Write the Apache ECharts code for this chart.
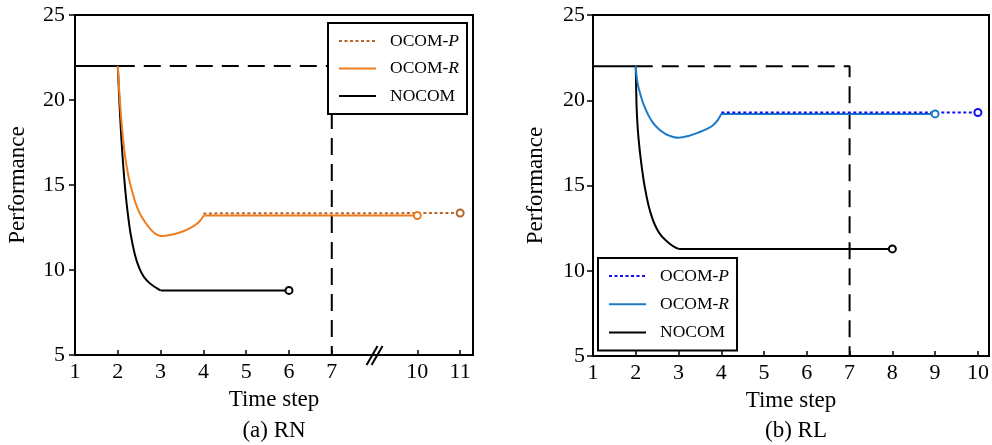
<!DOCTYPE html>
<html>
<head>
<meta charset="utf-8">
<script src="https://cdn.jsdelivr.net/npm/echarts@6/dist/echarts.min.js"></script>
<style>
  html, body { margin: 0; padding: 0; background: #fff; }
  #chart { width: 992px; height: 445px; }
</style>
</head>
<body>
<div id="chart"></div>
<script>
// ---- Data: performance over time steps ([time step, performance]) ----
// Each run is kept as its pieces: the level start, the transition curve, the settled level.

// (a) RN
const rnNocomStart = [[1, 22], [2, 22]];
const rnNocomCurve = [[2, 22], [2.03, 20.3], [2.06, 18.8], [2.1, 17.1], [2.15, 15.4], [2.2, 14.05],
  [2.25, 13.0], [2.3, 12.12], [2.4, 10.9], [2.5, 10.12], [2.6, 9.63], [2.7, 9.33], [2.8, 9.12],
  [2.9, 8.95], [3, 8.8]];
const rnNocomLevel = [[3, 8.8], [6, 8.8]];
const rnOcomRCurve = [[2, 22], [2.04, 20.3], [2.1, 18.3], [2.15, 17.1], [2.2, 16.2], [2.25, 15.5],
  [2.3, 14.96], [2.4, 14.06], [2.5, 13.4], [2.6, 12.96], [2.7, 12.6], [2.8, 12.3], [2.9, 12.1],
  [3, 12.0], [3.25, 12.07], [3.5, 12.25], [3.7, 12.48], [3.85, 12.72], [3.95, 12.98], [4, 13.2]];
const rnOcomRLevel = [[4, 13.2], [10, 13.2]];
const rnOcomP = [[4, 13.33], [11, 13.35]];
const rnTarget = [[2, 22], [7, 22], [7, 5]];
const rnTicks = [1, 2, 3, 4, 5, 6, 7, 10, 11];

// (b) RL
const rlNocomStart = [[1, 22], [2, 22]];
const rlNocomCurve = [[2, 22], [2.01, 20.6], [2.02, 19.6], [2.035, 18.8], [2.05, 18.2], [2.075, 17.5],
  [2.1, 16.9], [2.15, 15.9], [2.2, 15.06], [2.3, 13.81], [2.4, 12.98], [2.5, 12.42], [2.6, 12.04],
  [2.7, 11.79], [2.8, 11.57], [2.9, 11.4], [3, 11.28]];
const rlNocomLevel = [[3, 11.28], [8, 11.28]];
const rlOcomRCurve = [[2, 22], [2.01, 21.65], [2.02, 21.4], [2.05, 20.9], [2.1, 20.41], [2.15, 20.0],
  [2.2, 19.65], [2.3, 19.1], [2.4, 18.69], [2.5, 18.4], [2.6, 18.18], [2.7, 18.02], [2.8, 17.91],
  [2.9, 17.83], [3, 17.8], [3.25, 17.92], [3.5, 18.14], [3.7, 18.36], [3.82, 18.56], [3.92, 18.85],
  [4, 19.2]];
const rlOcomRLevel = [[4, 19.2], [9, 19.2]];
const rlOcomP = [[4, 19.28], [10, 19.28]];
const rlTarget = [[2, 22], [7, 22], [7, 5]];
const rlTicks = [1, 2, 3, 4, 5, 6, 7, 8, 9, 10];

const yTicks = [5, 10, 15, 20, 25];

// ---- Axis break on the RN panel: steps 8 and 9 are squeezed into one unit ----
const RN_BREAK_AFTER = 7;
function rnPos(t) { return t > RN_BREAK_AFTER ? t - 1 : t; }
function rnMap(points) { return points.map(p => [rnPos(p[0]), p[1]]); }
const rnBreakMark = [[(rnPos(7) + rnPos(10)) / 2, yTicks[0]]];

const FONT = 'Liberation Serif';
const C = {
  rnR: '#EE7D1E', rnP: '#B6652B',
  rlR: '#1B7BC9', rlP: '#1010EE',
  black: '#000000'
};

// last point of a run carries a hollow ring marker
function withEndRing(points, color) {
  return points.map((p, i) => i === points.length - 1
    ? { value: p, symbol: 'circle', symbolSize: 7,
        itemStyle: { color: '#ffffff', borderColor: color, borderWidth: 2 } }
    : p);
}

// one run drawn as consecutive pieces; curved pieces are smoothed, level pieces straight
function run(name, idx, pieces, color, type) {
  return pieces.map((pc, k) => ({
    name: k === 0 ? name : undefined,
    type: 'line', xAxisIndex: idx, yAxisIndex: idx,
    data: k === pieces.length - 1 ? withEndRing(pc.points, color) : pc.points,
    symbol: 'none', showSymbol: true, smooth: pc.smooth ? 0.4 : false,
    color: color,
    lineStyle: { color: color, width: 2, type: type || 'solid' },
    animation: false, silent: true, z: 3
  }));
}

function targetSeries(idx, points) {
  return {
    type: 'line', xAxisIndex: idx, yAxisIndex: idx, data: points,
    symbol: 'none', silent: true, animation: false, z: 2,
    lineStyle: { color: C.black, width: 2, type: [17, 9] }
  };
}

const legendText = {
  'RN-P': '{t|OCOM-}{i|P}', 'RN-R': '{t|OCOM-}{i|R}', 'RN-N': '{t|NOCOM}',
  'RL-P': '{t|OCOM-}{i|P}', 'RL-R': '{t|OCOM-}{i|R}', 'RL-N': '{t|NOCOM}'
};
const legendRich = {
  t: { fontFamily: FONT, fontSize: 17.5, color: '#000', padding: [0, 0, 0, 9] },
  i: { fontFamily: FONT, fontSize: 17.5, color: '#000', fontStyle: 'italic' }
};
function legendBox(data, left, top, gap) {
  return {
    data: data, orient: 'vertical', left: left, top: top,
    itemWidth: 37, itemHeight: 14, itemGap: gap,
    padding: [9, 8, 9, 10], selectedMode: false,
    backgroundColor: '#ffffff', borderColor: '#000', borderWidth: 2,
    itemStyle: { opacity: 0 },
    formatter: n => legendText[n],
    textStyle: { fontFamily: FONT, fontSize: 17.5, color: '#000', rich: legendRich },
    z: 10
  };
}

const axisFont = { fontFamily: FONT, fontSize: 22, color: '#000' };
const nameFont = { fontFamily: FONT, fontSize: 23, color: '#000' };

function xAxis(idx, max, tickVals, labelOf) {
  return {
    type: 'value', gridIndex: idx, min: 1, max: max,
    name: 'Time step', nameLocation: 'middle', nameGap: 33, nameTextStyle: nameFont,
    axisLine: { show: true, onZero: false, lineStyle: { color: '#000', width: 2 } },
    axisTick: { show: true, inside: true, length: 5, customValues: tickVals,
                lineStyle: { color: '#000', width: 1.5 } },
    axisLabel: Object.assign({ margin: 6, customValues: tickVals, formatter: labelOf }, axisFont),
    splitLine: { show: false }
  };
}
function yAxis(idx, margin) {
  return {
    type: 'value', gridIndex: idx, min: yTicks[0], max: yTicks[yTicks.length - 1], interval: 5,
    name: 'Performance', nameLocation: 'middle', nameGap: 46, nameTextStyle: nameFont,
    axisLine: { show: true, lineStyle: { color: '#000', width: 2 } },
    axisTick: { show: true, inside: false, length: 6, lineStyle: { color: '#000', width: 1.5 } },
    axisLabel: Object.assign({ margin: margin }, axisFont),
    splitLine: { show: false }
  };
}

const rnTickPos = rnTicks.map(rnPos);
const rnLabelOf = v => {
  const i = rnTickPos.indexOf(v);
  return i >= 0 ? String(rnTicks[i]) : '';
};
const rlLabelOf = v => rlTicks.indexOf(v) >= 0 ? String(v) : '';

const chart = echarts.init(document.getElementById('chart'), null, { renderer: 'canvas' });
chart.setOption({
  animation: false,
  backgroundColor: '#ffffff',
  title: [
    { text: '(a) RN', left: 274, top: 419, textAlign: 'center', padding: 0,
      textStyle: { fontFamily: FONT, fontSize: 23, fontWeight: 'normal', color: '#000' } },
    { text: '(b) RL', left: 796, top: 419, textAlign: 'center', padding: 0,
      textStyle: { fontFamily: FONT, fontSize: 23, fontWeight: 'normal', color: '#000' } }
  ],
  grid: [
    { left: 75, top: 15, width: 398, height: 340, show: true, borderColor: '#000', borderWidth: 2,
      backgroundColor: 'transparent' },
    { left: 593, top: 15, width: 396, height: 341, show: true, borderColor: '#000', borderWidth: 2,
      backgroundColor: 'transparent' }
  ],
  xAxis: [
    xAxis(0, 10.3, rnTickPos, rnLabelOf),
    xAxis(1, 10.26, rlTicks, rlLabelOf)
  ],
  yAxis: [yAxis(0, 10), yAxis(1, 8)],
  legend: [
    legendBox(['RN-P', 'RN-R', 'RN-N'], 328, 23, 9.5),
    legendBox(['RL-P', 'RL-R', 'RL-N'], 598, 258, 10.3)
  ],
  series: [
    targetSeries(0, rnMap(rnTarget)),
    ...run('RN-N', 0, [
      { points: rnMap(rnNocomStart) },
      { points: rnMap(rnNocomCurve), smooth: true },
      { points: rnMap(rnNocomLevel) }
    ], C.black),
    ...run('RN-R', 0, [
      { points: rnMap(rnOcomRCurve), smooth: true },
      { points: rnMap(rnOcomRLevel) }
    ], C.rnR),
    ...run('RN-P', 0, [{ points: rnMap(rnOcomP) }], C.rnP, [3, 2.5]),
    {
      // "//" break symbol on the RN time axis
      type: 'custom', xAxisIndex: 0, yAxisIndex: 0, data: rnBreakMark, clip: false, silent: true, z: 5,
      renderItem: function (params, api) {
        const p = api.coord([api.value(0), api.value(1)]);
        const st = { stroke: '#000', lineWidth: 2 };
        return {
          type: 'group',
          children: [
            { type: 'line', shape: { x1: p[0] - 8, y1: p[1] + 10, x2: p[0] + 3, y2: p[1] - 9 }, style: st },
            { type: 'line', shape: { x1: p[0] - 3, y1: p[1] + 10, x2: p[0] + 8, y2: p[1] - 9 }, style: st }
          ]
        };
      }
    },
    targetSeries(1, rlTarget),
    ...run('RL-N', 1, [
      { points: rlNocomStart },
      { points: rlNocomCurve, smooth: true },
      { points: rlNocomLevel }
    ], C.black),
    ...run('RL-R', 1, [
      { points: rlOcomRCurve, smooth: true },
      { points: rlOcomRLevel }
    ], C.rlR),
    ...run('RL-P', 1, [{ points: rlOcomP }], C.rlP, [3, 2.5])
  ]
});
</script>
</body>
</html>
